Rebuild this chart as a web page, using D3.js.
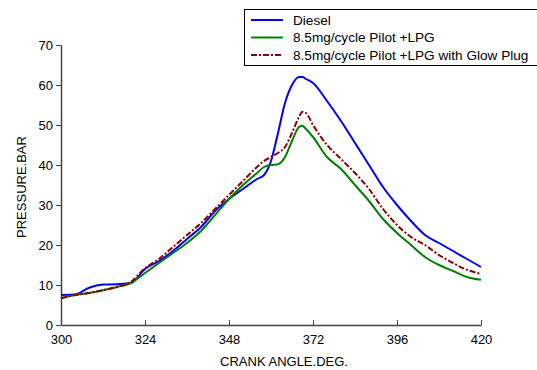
<!DOCTYPE html>
<head>
  <meta charset="utf-8">
  <script src="https://d3js.org/d3.v7.min.js"></script>
  <style>
    body { margin: 0; background: #fff; }
    text { font-family: "Liberation Sans", Arial, sans-serif; }
  </style>
</head>
<body>
  <div class="chart"></div>
  <script>
    // crank angle samples (deg)
    var angles = [300, 304, 308, 312, 316, 320, 324, 328, 332, 336, 340, 344, 348, 352, 356, 358, 360, 362, 364, 366, 368, 369, 370, 372, 376, 380, 384, 388, 392, 396, 400, 404, 408, 412, 416, 420];
    var diesel = [7.5, 7.6, 9.3, 10.1, 10.2, 10.5, 14, 16, 18.5, 21.5, 24.5, 28.5, 31.5, 34, 36.5, 37.5, 41, 48, 55.5, 60, 62, 62, 61.5, 60.5, 56, 51, 45.5, 40, 34.5, 30, 26, 22.5, 20.5, 18.5, 16.5, 14.5];
    var pilotLpg = [6.7, 7.5, 8, 8.7, 9.5, 10.5, 13, 15.5, 18, 20.5, 23.5, 27.5, 31.5, 35, 38, 39.5, 40, 40.2, 42, 46, 49.5, 49.8, 49, 47, 42, 39, 35, 31, 26.5, 23, 20, 17, 15, 13.5, 12, 11.3];
    var glowPlug = [6.7, 7.5, 8, 8.7, 9.5, 10.8, 14.2, 16.5, 19.5, 22.5, 25.5, 29, 32.5, 36, 39.5, 41, 42, 43, 44.5, 48, 52, 53.3, 53, 50, 45, 41.5, 38, 34, 29, 25, 22, 20, 17.5, 15.5, 13.8, 12.8];
    var seriesNames = ["Diesel", "8.5mg/cycle Pilot +LPG", "8.5mg/cycle Pilot +LPG with Glow Plug"];
    var xTicks = [300, 324, 348, 372, 396, 420];
    var yTicks = [0, 10, 20, 30, 40, 50, 60, 70];

    var width = 537, height = 370;

    var svg = d3.select(".chart").append("svg")
      .attr("width", width)
      .attr("height", height);

    var x = d3.scaleLinear().domain([300, 420]).range([61, 481]);
    var y = d3.scaleLinear().domain([0, 70]).range([325, 45]);

    var series = [
      { name: seriesNames[0], values: diesel, color: "#0000ff", dash: null, w: 2 },
      { name: seriesNames[1], values: pilotLpg, color: "#008000", dash: null, w: 2 },
      { name: seriesNames[2], values: glowPlug, color: "#8b0000", dash: "6,2,2,2", w: 2 }
    ];

    // axes
    var axisColor = "#444";
    var xAxis = svg.append("g")
      .attr("transform", "translate(0," + y(0) + ")")
      .call(d3.axisBottom(x).tickValues(xTicks).tickSizeInner(-5).tickSizeOuter(0).tickPadding(10));
    var yAxis = svg.append("g")
      .attr("transform", "translate(" + x(300) + ",0)")
      .call(d3.axisLeft(y).tickValues(yTicks).tickSizeInner(5).tickSizeOuter(0).tickPadding(3));

    [xAxis, yAxis].forEach(function(a) {
      a.select(".domain").attr("stroke", axisColor).attr("stroke-width", 1.5);
      a.selectAll(".tick line").attr("stroke", axisColor);
      a.selectAll(".tick text").attr("fill", "#000").style("font-size", "13px")
        .style("font-family", "Liberation Sans, Arial, sans-serif");
    });

    svg.append("text")
      .attr("x", 284).attr("y", 366)
      .attr("text-anchor", "middle")
      .style("font-size", "13px")
      .text("CRANK ANGLE.DEG.");

    svg.append("text")
      .attr("transform", "translate(26,187) rotate(-90)")
      .attr("text-anchor", "middle")
      .style("font-size", "13px")
      .text("PRESSURE.BAR");

    var line = d3.line()
      .x(function(d, i) { return x(angles[i]); })
      .y(function(d) { return y(d); })
      .curve(d3.curveMonotoneX);

    svg.selectAll(".series")
      .data(series)
      .enter().append("path")
      .attr("class", "series")
      .attr("fill", "none")
      .attr("stroke", function(d) { return d.color; })
      .attr("stroke-width", function(d) { return d.w; })
      .attr("stroke-dasharray", function(d) { return d.dash; })
      .attr("d", function(d) { return line(d.values); });

    // legend (runs off the right edge like the original)
    var legend = svg.append("g");
    legend.append("rect")
      .attr("x", 244.5).attr("y", 9.5)
      .attr("width", 320).attr("height", 56)
      .attr("fill", "#fff")
      .attr("stroke", "#000");

    var rows = legend.selectAll(".row")
      .data(series)
      .enter().append("g")
      .attr("transform", function(d, i) { return "translate(0," + (20 + i * 17.5) + ")"; });

    rows.append("line")
      .attr("x1", 251).attr("x2", 283)
      .attr("stroke", function(d) { return d.color; })
      .attr("stroke-width", 2)
      .attr("stroke-dasharray", function(d) { return d.dash; });

    rows.append("text")
      .attr("x", 293).attr("y", 4.5)
      .style("font-size", "13.6px")
      .text(function(d) { return d.name; });
  </script>
</body>
